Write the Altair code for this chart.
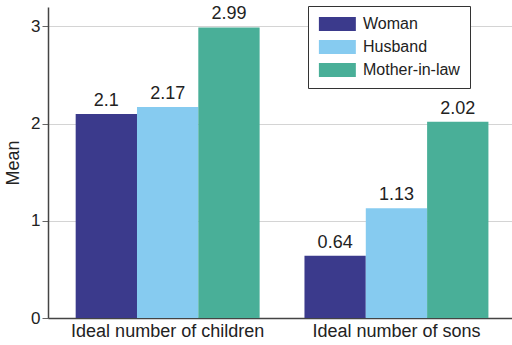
import altair as alt
import pandas as pd

categories = ["Ideal number of children", "Ideal number of sons"]
groups = ["Woman", "Husband", "Mother-in-law"]
woman = [2.1, 0.64]
husband = [2.17, 1.13]
mother_in_law = [2.99, 2.02]
labels = {"Woman": ["2.1", "0.64"], "Husband": ["2.17", "1.13"], "Mother-in-law": ["2.99", "2.02"]}
colors = ["#3b3a8c", "#86cbf0", "#49af98"]

rows = []
for g, vals in zip(groups, [woman, husband, mother_in_law]):
    for c, v, lab in zip(categories, vals, labels[g]):
        rows.append({"category": c, "group": g, "value": v, "label": lab})
df = pd.DataFrame(rows)

FONT = "Liberation Sans"

x_enc = alt.X("category:N", sort=categories, title=None,
              scale=alt.Scale(paddingInner=0.196, paddingOuter=0.112, align=0.54),
              axis=alt.Axis(labelAngle=0, labelFontSize=18, labelFont=FONT, labelColor="#222",
                            labelLimit=0, ticks=False, labelPadding=4,
                            domainColor="#444", domainWidth=1.5))
xoff = alt.XOffset("group:N", sort=groups, scale=alt.Scale(paddingInner=0, paddingOuter=0))
y_enc = alt.Y("value:Q", title="Mean",
              scale=alt.Scale(domain=[0, 3.2], nice=False),
              axis=alt.Axis(values=[0, 1, 2, 3], format="d", labelFontSize=17, labelFont=FONT,
                            labelColor="#222", tickSize=6, tickColor="#666", labelPadding=2,
                            domainColor="#444", domainWidth=1.5, gridColor="#d4d4d4",
                            titleFontSize=18, titleFont=FONT, titleFontWeight="normal",
                            titleColor="#222", titlePadding=8))

bars = alt.Chart(df).mark_bar().encode(
    x=x_enc,
    xOffset=xoff,
    y=y_enc,
    color=alt.Color("group:N", sort=groups, scale=alt.Scale(domain=groups, range=colors),
                    legend=alt.Legend(title=None, orient="none", legendX=260, legendY=-1,
                                      symbolType="M-1,-1H4.2V1H-1Z", symbolSize=202,
                                      symbolStrokeWidth=0, symbolOpacity=1,
                                      labelFontSize=16, labelFont=FONT, labelColor="#222",
                                      labelOffset=29, rowPadding=7, padding=10,
                                      strokeColor="#333", fillColor="white")),
)

text = alt.Chart(df).mark_text(baseline="bottom", dy=-4, fontSize=18, font=FONT, color="#222").encode(
    x=x_enc,
    xOffset=xoff,
    y=y_enc,
    text="label:N",
)

chart = alt.layer(bars, text).properties(
    width=464, height=311,
    autosize=alt.AutoSizeParams(type="none"),
    padding={"left": 48, "top": 7, "right": 0, "bottom": 27},
).configure_view(stroke=None)

chart.save("out.html", embed_options={"renderer": "svg", "actions": False})
